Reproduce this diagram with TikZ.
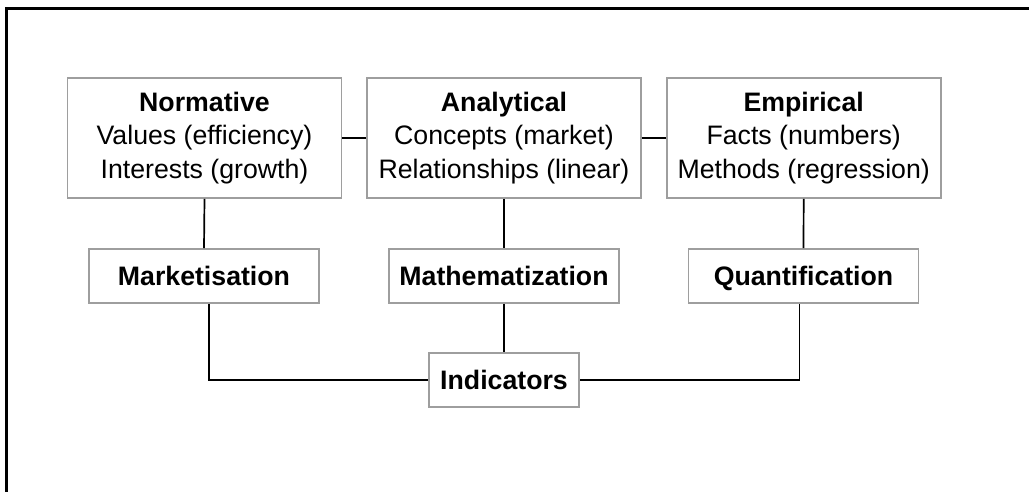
\documentclass[tikz,border=0pt]{standalone}
\usepackage{fontspec}
\setmainfont{Liberation Sans}
\usetikzlibrary{calc}
\begin{document}
\begin{tikzpicture}[x=0.5pt,y=-0.5pt,
  box/.style={draw=black!38, line width=0.8pt, fill=white, align=center, inner sep=0pt,
    font=\fontsize{13.35}{16.6}\selectfont},
  bigbox/.style={box, minimum width=137pt, minimum height=60pt},
  smallbox/.style={box, minimum width=115pt, minimum height=27pt, text height=9.6pt, text depth=0pt},
  conn/.style={draw=black, line width=0.85pt},
  frameline/.style={draw=black, line width=1.1pt}]
\useasboundingbox (0,0) rectangle (1029,492);
\draw[frameline] (1030,8.5) -- (6.5,8.5) -- (6.5,493);
\node[bigbox] (norm) at (204.5,138) {\textbf{Normative}\\Values (efficiency)\\Interests (growth)};
\node[bigbox] (ana) at (504,138) {\textbf{Analytical}\\Concepts (market)\\Relationships (linear)};
\node[bigbox] (emp) at (803.7,138) {\textbf{Empirical}\\Facts (numbers)\\Methods (regression)};
\node[smallbox] (mark) at (204,276) {\textbf{Marketisation}};
\node[smallbox] (math) at (504,276) {\textbf{Mathematization}};
\node[smallbox] (quant) at (803.5,276) {\textbf{Quantification}};
\node[smallbox, minimum width=75pt] (ind) at (504,379.7) {\textbf{Indicators}};
\coordinate (mkb) at ($(mark.south)+(5,0)$);
\coordinate (qb) at ($(quant.south)+(-4,0)$);
\draw[conn] (norm.east) -- (ana.west);
\draw[conn] (ana.east) -- (emp.west);
\draw[conn] (norm.south) -- (mark.north);
\draw[conn] (ana.south) -- (math.north);
\draw[conn] (emp.south) -- (quant.north);
\draw[conn] (math.south) -- (ind.north);
\draw[conn] (mkb) |- (ind.west);
\draw[conn] (qb) |- (ind.east);
\end{tikzpicture}
\end{document}
